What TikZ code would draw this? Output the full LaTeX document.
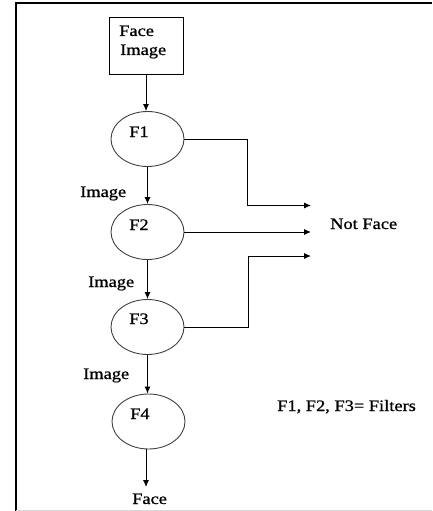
\documentclass[tikz,border=0pt]{standalone}
\usepackage{fontspec}
\setmainfont{Liberation Serif}[FakeStretch=1.15,FakeBold=0.8]
\usetikzlibrary{shapes.geometric,arrows.meta}
\begin{document}
\begin{tikzpicture}[x=1pt,y=-1pt,
  lbl/.style={font=\fontsize{16}{18}\selectfont, inner sep=0pt, anchor=base west},
  filt/.style={ellipse, draw=black!75, line width=0.9pt, minimum width=73pt, minimum height=55pt, inner sep=0pt},
  inbox/.style={draw, line width=0.9pt, minimum width=74pt, minimum height=57pt, inner sep=0pt},
  flow/.style={line width=0.9pt, -{Latex[length=7pt,width=6pt]}}]
\useasboundingbox (0,0) rectangle (432,511);

% page frame
\draw[line width=2pt] (16,511) -- (16,3) -- (432,3);
\draw[black!15, line width=1pt] (16,510) -- (432,510);

% input box and filter chain
\node[inbox] (in) at (146,45.5) {};
\node[lbl] (tface) at (119,36) {Face};
\node[lbl] (timg) at (120,55) {Image};

\node[filt] (f1) at (147.5,139) {};
\node[filt] (f2) at (147.5,232) {};
\node[filt] (f3) at (147.5,327) {};
\node[filt] (f4) at (148.5,421.5) {};

\node[lbl] (l1) at (129,137) {F1};
\node[lbl] (l2) at (129,230) {F2};
\node[lbl] (l3) at (129,324) {F3};
\node[lbl] (l4) at (130,419) {F4};

% labels on the chain
\node[lbl] (i1) at (80,197) {Image};
\node[lbl] (i2) at (88,287) {Image};
\node[lbl] (i3) at (83,379) {Image};
\node[lbl] (out) at (132,504) {Face};
\node[lbl] (nf) at (330,229) {Not Face};
\node[lbl] (key) at (277,411) {F1, F2, F3= Filters};

% rejection outputs
\coordinate (n1) at (311,205.5);
\coordinate (n2) at (311,231);
\coordinate (n3) at (311,256);
\coordinate (j1) at (247,0);
\coordinate (j3) at (248,0);
\coordinate (e4) at (146,487);

% connectors
\draw[flow] (in.south) -- (in.south |- f1.north);
\draw[flow] (f1.south) -- (f2.north);
\draw[flow] (f2.south) -- (f3.north);
\draw[flow] (f3.south) -- (f3.south |- f4.north);
\draw[flow] (f4.south -| e4) -- (e4);

\draw[flow] (f1.east) -- (f1.east -| j1) |- (n1);
\draw[flow] (f2.east) -- (f2.east -| n2);
\draw[flow] (f3.east) -- (f3.east -| j3) |- (n3);
\end{tikzpicture}
\end{document}
